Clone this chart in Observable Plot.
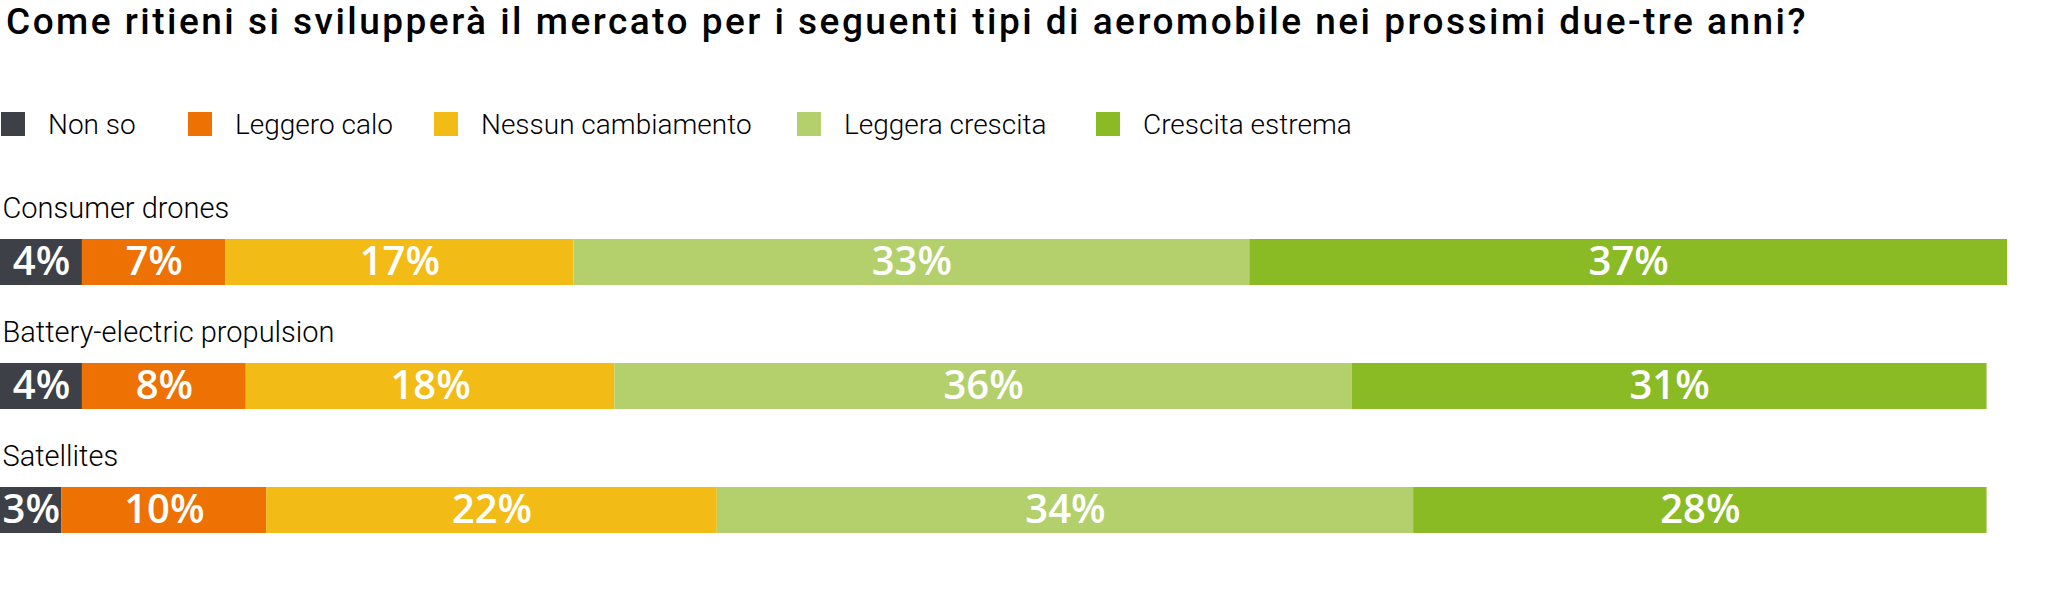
<!DOCTYPE html>
<html>
<head>
<meta charset="utf-8">
<script src="https://cdn.jsdelivr.net/npm/d3@7"></script>
<script src="https://cdn.jsdelivr.net/npm/@observablehq/plot@0.6"></script>
<style>
  html, body { margin: 0; padding: 0; background: #fff; }
  body { width: 2048px; height: 614px; overflow: hidden; position: relative; }
  #title { position: absolute; left: 6px; top: 0; height: 50px; padding-top: 0px; box-sizing: border-box;
    font-family: Roboto, sans-serif; font-weight: 500; font-size: 37px; line-height: 44px; color: #000; white-space: nowrap; }
  #legend { position: absolute; left: 0; top: 104px; width: 2048px; height: 40px; }
  .item { position: absolute; top: 0; height: 40px; display: flex; align-items: center;
    font-family: Roboto, sans-serif; font-weight: 300; font-size: 28px; color: #000; white-space: nowrap; }
  .sw { width: 24px; height: 24px; margin-right: 23px; }
  #chart { position: absolute; left: 0; top: 150px; }
</style>
</head>
<body>
<div id="title"><span id="titletext">Come ritieni si svilupperà il mercato per i seguenti tipi di aeromobile nei prossimi due-tre anni?</span></div>
<div id="legend"></div>
<div id="chart"></div>
<script>
// ---- data ----
const categories = ["Consumer drones", "Battery-electric propulsion", "Satellites"];
const series = ["Non so", "Leggero calo", "Nessun cambiamento", "Leggera crescita", "Crescita estrema"];
const nonSo = [4, 4, 3];
const leggeroCalo = [7, 8, 10];
const nessunCambiamento = [17, 18, 22];
const leggeraCrescita = [33, 36, 34];
const crescitaEstrema = [37, 31, 28];
const colors = ["#3e4047", "#ee7203", "#f3bb15", "#b3d06d", "#8abb25"];

// ---- layout ----
const legendX = [1, 188, 434, 797, 1096];
const titleWidth = 1802;

const valuesBySeries = [nonSo, leggeroCalo, nessunCambiamento, leggeraCrescita, crescitaEstrema];
const table = [];
categories.forEach((c, i) => {
  series.forEach((s, j) => {
    table.push({category: c, series: s, value: valuesBySeries[j][i]});
  });
});

// title fit to reference width
function fitTitle() {
  const t = document.getElementById("titletext");
  t.style.letterSpacing = "0px";
  const w = t.getBoundingClientRect().width;
  const n = t.textContent.length;
  t.style.letterSpacing = ((titleWidth - w) / n) + "px";
}
fitTitle();
if (document.fonts && document.fonts.ready) document.fonts.ready.then(fitTitle);

// legend
const legend = document.getElementById("legend");
series.forEach((s, j) => {
  const it = document.createElement("div");
  it.className = "item";
  it.style.left = legendX[j] + "px";
  const sw = document.createElement("div");
  sw.className = "sw";
  sw.style.background = colors[j];
  const lab = document.createElement("span");
  lab.textContent = s;
  it.appendChild(sw);
  it.appendChild(lab);
  legend.appendChild(it);
});

const chart = Plot.plot({
  width: 2048,
  height: 464,
  marginLeft: 0,
  marginRight: 0,
  marginTop: 88,
  marginBottom: 81,
  style: {fontFamily: "Roboto, sans-serif", background: "#fff"},
  x: {domain: [0, 100], axis: null},
  y: {domain: categories, axis: null, paddingInner: 0.63, paddingOuter: 0},
  color: {domain: series, range: colors, legend: false},
  marks: [
    Plot.barX(table, {x: "value", y: "category", fill: "series", inset: 0}),
    Plot.text(table, Plot.stackX({x: "value", y: "category", text: d => d.value + "%",
      fill: "#fff", fontSize: 40, fontWeight: 600, fontFamily: "'Open Sans', sans-serif"})),
    Plot.text(categories, {x: () => 0, y: d => d, text: d => d, textAnchor: "start", dx: 2, dy: -54,
      fontSize: 29, fontWeight: 300, fill: "#000", fontFamily: "Roboto, sans-serif"})
  ]
});
document.getElementById("chart").appendChild(chart);
</script>
</body>
</html>
